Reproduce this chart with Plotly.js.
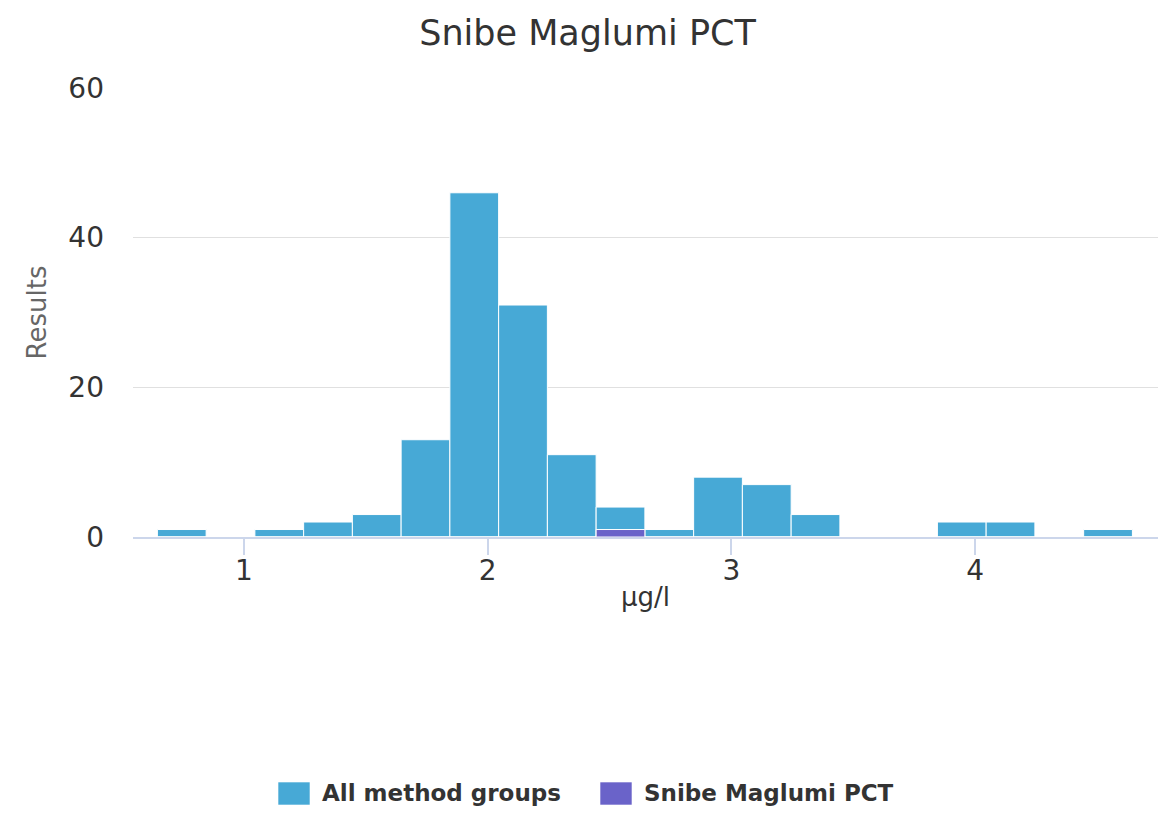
<!DOCTYPE html>
<html>
<head>
<meta charset="utf-8">
<script src="https://cdn.plot.ly/plotly-3.0.1.min.js"></script>
<style>html,body{margin:0;padding:0;background:#fff;}#chart{width:1175px;height:814px;}</style>
</head>
<body>
<div id="chart"></div>
<script>
// Bin centres (µg/l), bin width 0.2
const binCenters = [0.745, 0.945, 1.145, 1.345, 1.545, 1.745, 1.945, 2.145, 2.345, 2.545, 2.745, 2.945, 3.145, 3.345, 3.545, 3.745, 3.945, 4.145, 4.345, 4.545];
const allGroups  = [1, 0, 1, 2, 3, 13, 46, 31, 11, 4, 1, 8, 7, 3, 0, 0, 2, 2, 0, 1];
const snibe      = [0, 0, 0, 0, 0, 0, 0, 0, 0, 1, 0, 0, 0, 0, 0, 0, 0, 0, 0, 0];
const binWidth = 0.2;
const xTicks = [1, 2, 3, 4];
const yTicks = [0, 20, 40, 60];
const seriesNames = ["All method groups", "Snibe Maglumi PCT"];
const seriesColors = ["#47a9d6", "#6a63c9"];
const chartTitle = "Snibe Maglumi PCT";

const font = "DejaVu Sans, sans-serif";

const traces = [
  {
    type: "bar", name: seriesNames[0], x: binCenters, y: allGroups,
    width: binCenters.map(() => binWidth),
    marker: {color: seriesColors[0], line: {color: "#ffffff", width: 1}},
    hoverinfo: "x+y"
  },
  {
    type: "bar", name: seriesNames[1], x: binCenters, y: snibe,
    width: binCenters.map(() => binWidth),
    marker: {color: seriesColors[1], line: {color: "#ffffff", width: 1}},
    hoverinfo: "x+y"
  }
];

// Custom legend (swatches + labels) placed in pixel space below the plot
const W = 1175, H = 814, ML = 133, MR = 17, MT = 88, MB = 277;
const PW = W - ML - MR, PH = H - MT - MB;
const px = v => (v - ML) / PW;          // pixel x -> paper x
const py = v => (H - MB - v) / PH;      // pixel y -> paper y
const legendItems = [
  {sx: 278, tx: 320},
  {sx: 600, tx: 642}
];
const shapes = [], annotations = [];
legendItems.forEach((it, i) => {
  shapes.push({
    type: "rect", xref: "paper", yref: "paper",
    x0: px(it.sx), x1: px(it.sx + 32), y0: py(805), y1: py(782),
    fillcolor: seriesColors[i], line: {color: "rgba(255,255,255,0.6)", width: 1}
  });
  annotations.push({
    xref: "paper", yref: "paper", x: px(it.tx), y: py(793),
    xanchor: "left", yanchor: "middle", showarrow: false,
    text: "<b>" + seriesNames[i] + "</b>",
    font: {family: font, size: 23, color: "#333333"}
  });
});

const layout = {
  width: W, height: H,
  margin: {l: ML, r: MR, t: MT, b: MB},
  paper_bgcolor: "#ffffff", plot_bgcolor: "#ffffff",
  barmode: "overlay",
  bargap: 0,
  font: {family: font, color: "#333333"},
  title: {
    text: chartTitle, x: 0.5, xref: "container", xanchor: "center",
    y: 1 - 33/814, yref: "container", yanchor: "middle",
    font: {family: font, size: 35, color: "#333333"}
  },
  xaxis: {
    range: [0.545, 4.75],
    tickvals: xTicks, ticktext: xTicks.map(String),
    ticks: "outside", ticklen: 16, tickwidth: 2, tickcolor: "#ccd6eb",
    ticklabelstandoff: -9,
    showline: true, linecolor: "#ccd6eb", linewidth: 2,
    showgrid: false, zeroline: false,
    tickfont: {family: font, size: 28, color: "#333333"},
    title: {text: "µg/l", standoff: 2, font: {family: font, size: 26, color: "#333333"}}
  },
  yaxis: {
    range: [0, 60],
    tickvals: yTicks, ticktext: yTicks.map(String),
    showgrid: true, gridcolor: "#e0e0e0", gridwidth: 1.5,
    showline: false, zeroline: false,
    ticks: "", ticklabelstandoff: 28,
    tickfont: {family: font, size: 28, color: "#333333"},
    title: {text: "Results", standoff: 14, font: {family: font, size: 26, color: "#666666"}}
  },
  showlegend: false,
  shapes: shapes,
  annotations: annotations
};

Plotly.newPlot("chart", traces, layout, {displayModeBar: false, staticPlot: true});
</script>
</body>
</html>
